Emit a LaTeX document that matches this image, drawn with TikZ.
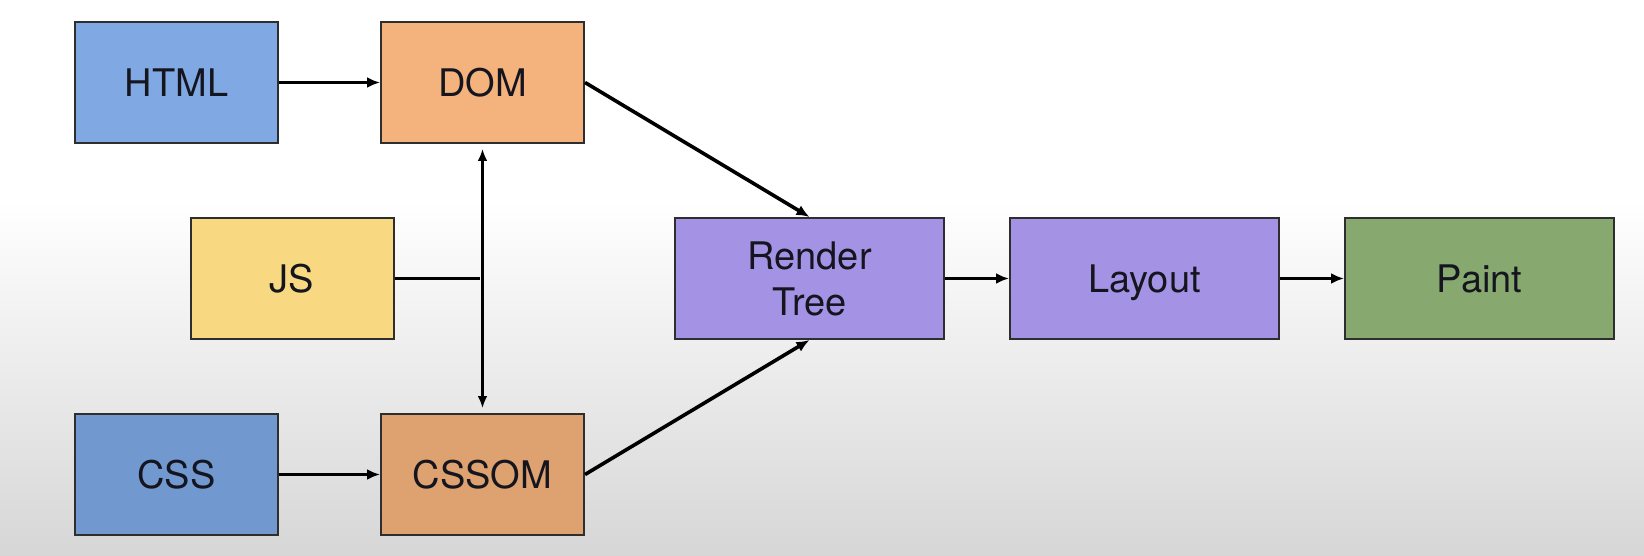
\documentclass[tikz,border=0pt]{standalone}
\usepackage{fontspec}
\setmainfont{TeX Gyre Heros}
\usetikzlibrary{arrows.meta}

\definecolor{htmlblue}{HTML}{80A8E2}
\definecolor{cssblue}{HTML}{7199D0}
\definecolor{domorange}{HTML}{F4B27D}
\definecolor{cssomorange}{HTML}{DEA170}
\definecolor{jsyellow}{HTML}{F8D880}
\definecolor{renderpurple}{HTML}{A493E4}
\definecolor{paintgreen}{HTML}{87A86F}
\definecolor{edgegray}{HTML}{2E2E2E}
\definecolor{textdark}{HTML}{15151F}

\tikzset{
  stagebox/.style={draw=edgegray, line width=2pt, rectangle,
    minimum height=121pt, inner sep=0pt, align=center,
    font=\fontsize{38}{46}\selectfont, text=textdark},
  oneline/.style={text height=27.5pt, text depth=0pt},
  narrow/.style={stagebox, oneline, minimum width=203pt},
  wide/.style={stagebox, minimum width=269pt},
  flow/.style={line width=3.6pt, -{Latex[length=13pt,width=11pt]}},
  link/.style={line width=3.6pt},
  twoway/.style={line width=2.8pt, {Latex[length=12pt,width=10pt]}-{Latex[length=12pt,width=10pt]}}
}

\begin{document}
\begin{tikzpicture}[x=1pt, y=-1pt]
  % page area and soft backdrop
  \useasboundingbox (0,0) rectangle (1644,556);
  \fill[white] (0,0) rectangle (1644,556);
  \shade[top color=white, bottom color=black!16] (0,200) rectangle (1644,556);

  % stages
  \node[narrow, fill=htmlblue]    (html)   at (176.5, 82.5)  {HTML};
  \node[narrow, fill=domorange]   (dom)    at (482.5, 82.5)  {DOM};
  \node[narrow, fill=jsyellow]    (js)     at (292, 278.5)   {JS};
  \node[narrow, fill=cssblue]     (css)    at (176.5, 474.5) {CSS};
  \node[narrow, fill=cssomorange] (cssom)  at (482.5, 474.5) {CSSOM};
  \node[wide, fill=renderpurple]  (render) at (809.5, 278.5) {Render\\Tree};
  \node[wide, oneline, fill=renderpurple] (layout) at (1144.5, 278.5) {Layout};
  \node[wide, oneline, fill=paintgreen]   (paint)  at (1479.5, 278.5) {Paint};

  % connectors
  \draw[flow] (html) -- (dom);
  \draw[flow] (css) -- (cssom);
  \draw[twoway, shorten <=5pt, shorten >=5pt] (dom.south) -- (cssom.north);
  \coordinate (jsend) at (480, 278.5);
  \draw[link] (js.east) -- (jsend);
  \draw[flow] (dom.east) -- (render.north);
  \draw[flow] (cssom.east) -- (render.south);
  \draw[flow] (render) -- (layout);
  \draw[flow] (layout) -- (paint);
\end{tikzpicture}
\end{document}
